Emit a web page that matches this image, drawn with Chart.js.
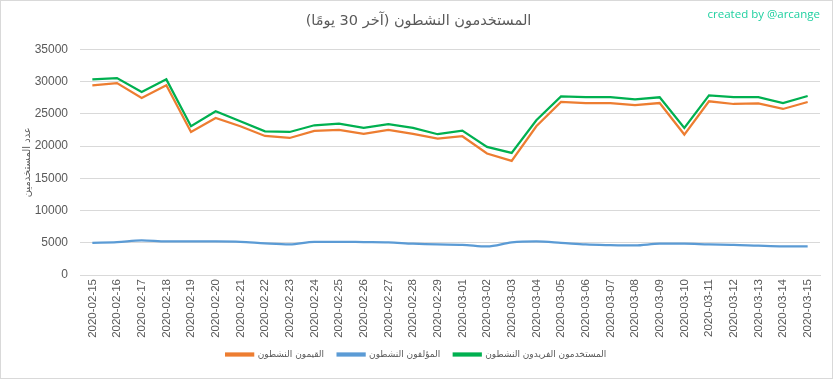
<!DOCTYPE html>
<html>
<head>
<meta charset="utf-8">
<script src="https://cdn.jsdelivr.net/npm/chart.js@4/dist/chart.umd.min.js"></script>
<style>
  html, body { margin: 0; padding: 0; background: #fff; }
  #wrap { width: 833px; height: 379px; box-sizing: border-box; border: 1px solid #d9d9d9; position: relative; }
</style>
</head>
<body>
<div id="wrap"><canvas id="chart"></canvas></div>
<script>
const days = [
  '2020-02-15', '2020-02-16', '2020-02-17', '2020-02-18', '2020-02-19',
  '2020-02-20', '2020-02-21', '2020-02-22', '2020-02-23', '2020-02-24',
  '2020-02-25', '2020-02-26', '2020-02-27', '2020-02-28', '2020-02-29',
  '2020-03-01', '2020-03-02', '2020-03-03', '2020-03-04', '2020-03-05',
  '2020-03-06', '2020-03-07', '2020-03-08', '2020-03-09', '2020-03-10',
  '2020-03-11', '2020-03-12', '2020-03-13', '2020-03-14', '2020-03-15'
]

// القيمون النشطون
const curators = [
  29430, 29780, 27460, 29430, 22190, 24360, 23080, 21570, 21260, 22350,
  22500, 21880, 22500, 21880, 21170, 21530, 18850, 17700, 23080, 26840,
  26680, 26680, 26370, 26680, 21790, 26950, 26530, 26640, 25760, 26840
]

// المؤلفون النشطون
const authors = [
  5000, 5100, 5360, 5200, 5200, 5200, 5150, 4900, 4740, 5150,
  5150, 5100, 5050, 4850, 4740, 4690, 4430, 5050, 5200, 5000,
  4740, 4640, 4590, 4850, 4850, 4740, 4690, 4540, 4430, 4430
]

// المستخدمون الفريدون النشطون
const uniques = [
  30350, 30560, 28390, 30350, 23080, 25400, 23850, 22300, 22190, 23230,
  23490, 22810, 23390, 22810, 21840, 22410, 19870, 18940, 24000, 27720,
  27610, 27610, 27260, 27570, 22810, 27880, 27610, 27610, 26680, 27770
]

const seriesNames = ['القيمون النشطون', 'المؤلفون النشطون', 'المستخدمون الفريدون النشطون']
const yTicks = [0, 5000, 10000, 15000, 20000, 25000, 30000, 35000]

const arabicFont = '"DejaVu Sans", sans-serif'

// "created by" note, top right
const watermark = {
  id: 'watermark',
  afterDraw: chart => {
    const ctx = chart.ctx
    ctx.save()
    ctx.font = '11.5px "Open Sans", sans-serif'
    ctx.fillStyle = '#1fd0a0'
    ctx.textAlign = 'right'
    ctx.textBaseline = 'middle'
    ctx.fillText('created by @arcange', 819, 14)
    ctx.restore()
  }
}

// a little extra room after each legend entry
const legendLabels = chart =>
  Chart.defaults.plugins.legend.labels.generateLabels(chart).map(item => ({
    ...item,
    text: item.text + '\u2002'
  }))

const context = document.getElementById('chart')
const myChart = new Chart(context, {
  type: 'line',
  data: {
    labels: days,
    datasets: [
      {
        label: seriesNames[0],
        data: curators,
        borderColor: '#ED7D31',
        backgroundColor: '#ED7D31',
        borderWidth: 2.25,
        pointRadius: 0,
        tension: 0
      },
      {
        label: seriesNames[1],
        data: authors,
        borderColor: '#5B9BD5',
        backgroundColor: '#5B9BD5',
        borderWidth: 2.25,
        pointRadius: 0,
        cubicInterpolationMode: 'monotone'
      },
      {
        label: seriesNames[2],
        data: uniques,
        borderColor: '#00B050',
        backgroundColor: '#00B050',
        borderWidth: 2.25,
        pointRadius: 0,
        tension: 0
      }
    ]
  },
  options: {
    responsive: true,
    maintainAspectRatio: false,
    animation: false,
    layout: {
      padding: { left: 16, right: 12, top: 4, bottom: 9 }
    },
    plugins: {
      title: {
        display: true,
        text: 'المستخدمون النشطون (آخر 30 يومًا)',
        color: '#595959',
        font: { family: arabicFont, size: 14.5, weight: 'normal' },
        padding: { top: 8, bottom: 19 }
      },
      legend: {
        position: 'bottom',
        labels: {
          color: '#595959',
          font: { family: arabicFont, size: 9 },
          boxWidth: 27,
          boxHeight: 2,
          padding: 9,
          generateLabels: legendLabels
        }
      },
      tooltip: { enabled: false }
    },
    scales: {
      x: {
        offset: true,
        grid: { display: false, drawTicks: false },
        border: { color: '#d9d9d9' },
        ticks: {
          color: '#595959',
          font: { family: '"Liberation Sans", sans-serif', size: 11.5 },
          maxRotation: 90,
          minRotation: 90,
          autoSkip: false,
          padding: 4
        },
        afterFit: scale => { scale.height = 66 }
      },
      y: {
        min: 0,
        max: 35000,
        afterBuildTicks: axis => {
          axis.ticks = yTicks.map(v => ({ value: v }))
        },
        afterFit: scale => { scale.width = 63 },
        grid: { color: '#d9d9d9', drawTicks: false },
        border: { display: false },
        ticks: {
          color: '#595959',
          font: { family: '"Liberation Sans", sans-serif', size: 12 },
          padding: 12,
          callback: value => String(value)
        },
        title: {
          display: true,
          text: 'عدد المستخدمين',
          color: '#595959',
          font: { family: arabicFont, size: 10 },
          padding: 4
        }
      }
    }
  },
  plugins: [watermark]
})
</script>
</body>
</html>
